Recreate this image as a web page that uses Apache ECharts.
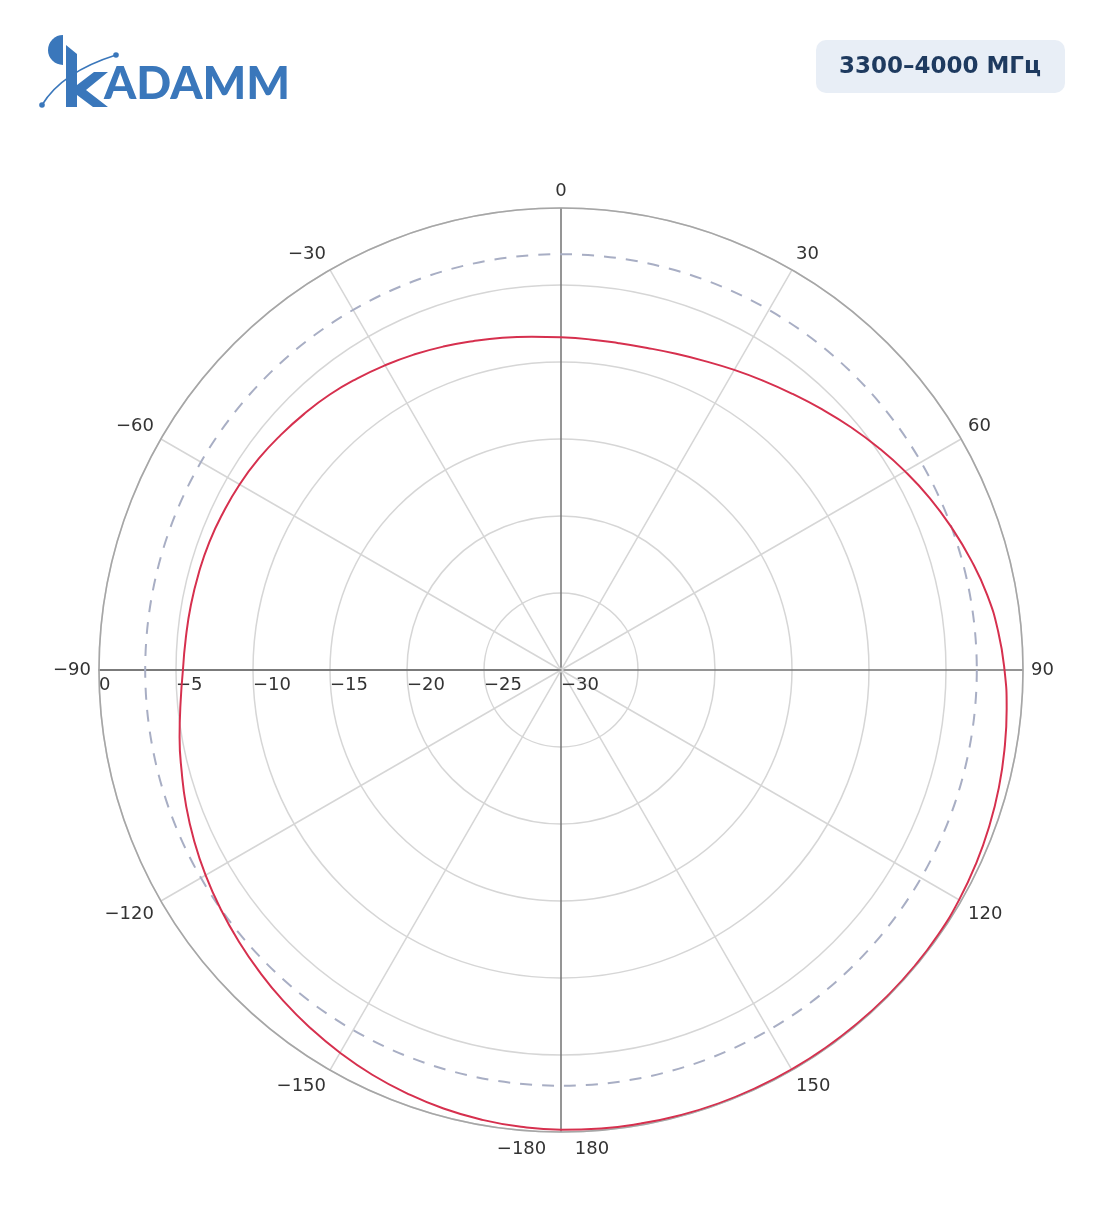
<!DOCTYPE html>
<html>
<head>
<meta charset="utf-8">
<style>
  html, body { margin: 0; padding: 0; background: #ffffff; }
  #chart { width: 1104px; height: 1211px; }
</style>
<script src="https://cdn.jsdelivr.net/npm/echarts@6/dist/echarts.min.js"></script>
</head>
<body>
<div id="chart"></div>
<script>
// Radiation pattern (dB), angle in degrees (0 = top, clockwise)
const angles = [-180, -175, -170, -165, -160, -155, -150, -145, -140, -135, -130, -125, -120, -115, -110, -105, -100, -95,
                -90, -85, -80, -75, -70, -65, -60, -55, -50, -45, -40, -35, -30, -25, -20, -15, -10, -5,
                0, 5, 10, 15, 20, 25, 30, 35, 40, 45, 50, 55, 60, 65, 70, 75, 80, 85,
                90, 95, 100, 105, 110, 115, 120, 125, 130, 135, 140, 145, 150, 155, 160, 165, 170, 175, 180];
const gainDb = [-0.15, -0.22, -0.35, -0.52, -0.75, -1.0, -1.3, -1.62, -1.95, -2.3, -2.65, -3.0, -3.35, -3.72, -4.1, -4.5, -4.85, -5.2,
                -5.45, -5.55, -5.6, -5.65, -5.7, -5.8, -5.9, -6.05, -6.25, -6.45, -6.65, -6.9, -7.15, -7.4, -7.65, -7.9, -8.1, -8.28,
                -8.4, -8.45, -8.45, -8.35, -8.15, -7.87, -7.5, -7.08, -6.6, -6.05, -5.45, -4.83, -4.2, -3.58, -3.0, -2.43, -1.9, -1.5,
                -1.2, -0.95, -0.75, -0.56, -0.4, -0.26, -0.15, -0.08, -0.05, -0.05, -0.05, -0.05, -0.05, -0.05, -0.05, -0.07, -0.1, -0.12, -0.15];
const halfPowerDb = -3;           // dashed reference ring
const radiusMin = -30, radiusMax = 0, radiusStep = 5;
const angleStep = 30;
const bandLabel = '3300–4000 МГц';
const logoText = 'ADAMM';

// Map -180..180 to the axis range -90..270 (axis starts at the left, clockwise)
const pts = angles.map((a, i) => [gainDb[i], a < -90 ? a + 360 : a]);
pts.sort((p, q) => p[1] - q[1]);
const seen = {};
const polarData = [];
pts.forEach(p => { if (!seen[p[1]]) { seen[p[1]] = 1; polarData.push(p); } });
polarData.push([polarData[0][0], polarData[0][1] + 360]);

const MINUS = '\u2212';
const fmtNum = v => (v < 0 ? MINUS + Math.abs(v) : String(v));

const chart = echarts.init(document.getElementById('chart'), null, { renderer: 'canvas' });
const CX = 561, CY = 670, R = 462;
const labelFont = { fontFamily: 'DejaVu Sans', fontSize: 18, color: '#333333' };
const logoBlue = '#3a77bb';

const option = {
  animation: false,
  backgroundColor: '#ffffff',
  polar: [
    { center: [CX, CY], radius: R },
    { center: [CX, CY], radius: R * (halfPowerDb - radiusMin) / (radiusMax - radiusMin) }
  ],
  angleAxis: [
    {
      polarIndex: 0, type: 'value', min: -90, max: 270, interval: angleStep,
      startAngle: 180, clockwise: true,
      axisLine: { show: true, lineStyle: { color: '#a6a6a6', width: 1.6 } },
      axisTick: { show: false },
      axisLabel: Object.assign({
        margin: 8,
        formatter: v => {
          if (v === 270) return '';
          if (v === 180) return '{b|' + MINUS + '180     180}';
          return fmtNum(v > 180 ? v - 360 : v);
        },
        rich: { b: Object.assign({ padding: [0, 16, 0, 0] }, labelFont) }
      }, labelFont),
      splitLine: { show: true, lineStyle: { color: ['#737373', '#d6d6d6', '#d6d6d6'], width: 1.5 } }
    },
    {
      polarIndex: 1, type: 'value', min: -90, max: 270, startAngle: 180,
      axisLine: { show: true, lineStyle: { color: '#a8aec4', width: 2, type: [12, 10] } },
      axisTick: { show: false }, axisLabel: { show: false }, splitLine: { show: false }
    }
  ],
  radiusAxis: [
    {
      polarIndex: 0, type: 'value', min: radiusMin, max: radiusMax, interval: radiusStep,
      axisLine: { show: true, lineStyle: { color: '#737373', width: 1.5 } },
      axisTick: { show: false },
      axisLabel: Object.assign({ margin: 6, align: 'left', verticalAlign: 'top', formatter: fmtNum }, labelFont),
      splitLine: { show: true, lineStyle: { color: '#d6d6d6', width: 1.5 } }
    },
    {
      polarIndex: 1, type: 'value', min: radiusMin, max: halfPowerDb,
      axisLine: { show: false }, axisTick: { show: false }, axisLabel: { show: false }, splitLine: { show: false }
    }
  ],
  series: [
    {
      type: 'line', coordinateSystem: 'polar', polarIndex: 0,
      data: polarData, smooth: 0.5, showSymbol: false, symbol: 'none',
      lineStyle: { color: '#d6304e', width: 2 }, z: 5
    }
  ],
  graphic: [
    // badge
    { type: 'rect', shape: { x: 816, y: 40, width: 249, height: 53, r: 10 }, style: { fill: '#e8eef6' } },
    { type: 'text', x: 940, y: 67, style: { text: bandLabel, fill: '#1e3a5f', font: 'bold 23px "DejaVu Sans"', textAlign: 'center', textVerticalAlign: 'middle' } },
    // logo
    { type: 'sector', shape: { cx: 63, cy: 50, r: 15, r0: 0, startAngle: Math.PI / 2, endAngle: Math.PI * 3 / 2, clockwise: true }, style: { fill: logoBlue } },
    { type: 'polygon', shape: { points: [[66, 45], [77, 54], [77, 107], [66, 107]] }, style: { fill: logoBlue } },
    { type: 'polygon', shape: { points: [[77, 85], [94, 72], [108, 72], [86, 90], [108, 107], [93, 107], [77, 95]] }, style: { fill: logoBlue } },
    { type: 'bezierCurve', shape: { x1: 42, y1: 105, x2: 116, y2: 55, cpx1: 62, cpy1: 72 }, style: { stroke: logoBlue, lineWidth: 1.6, fill: null } },
    { type: 'circle', shape: { cx: 42, cy: 105, r: 2.8 }, style: { fill: logoBlue } },
    { type: 'circle', shape: { cx: 116, cy: 55, r: 2.8 }, style: { fill: logoBlue } },
    { type: 'text', x: 104, y: 107, style: { text: logoText, fill: logoBlue, font: '900 46px Lato', textVerticalAlign: 'bottom' } }
  ]
};
chart.setOption(option);
</script>
</body>
</html>
